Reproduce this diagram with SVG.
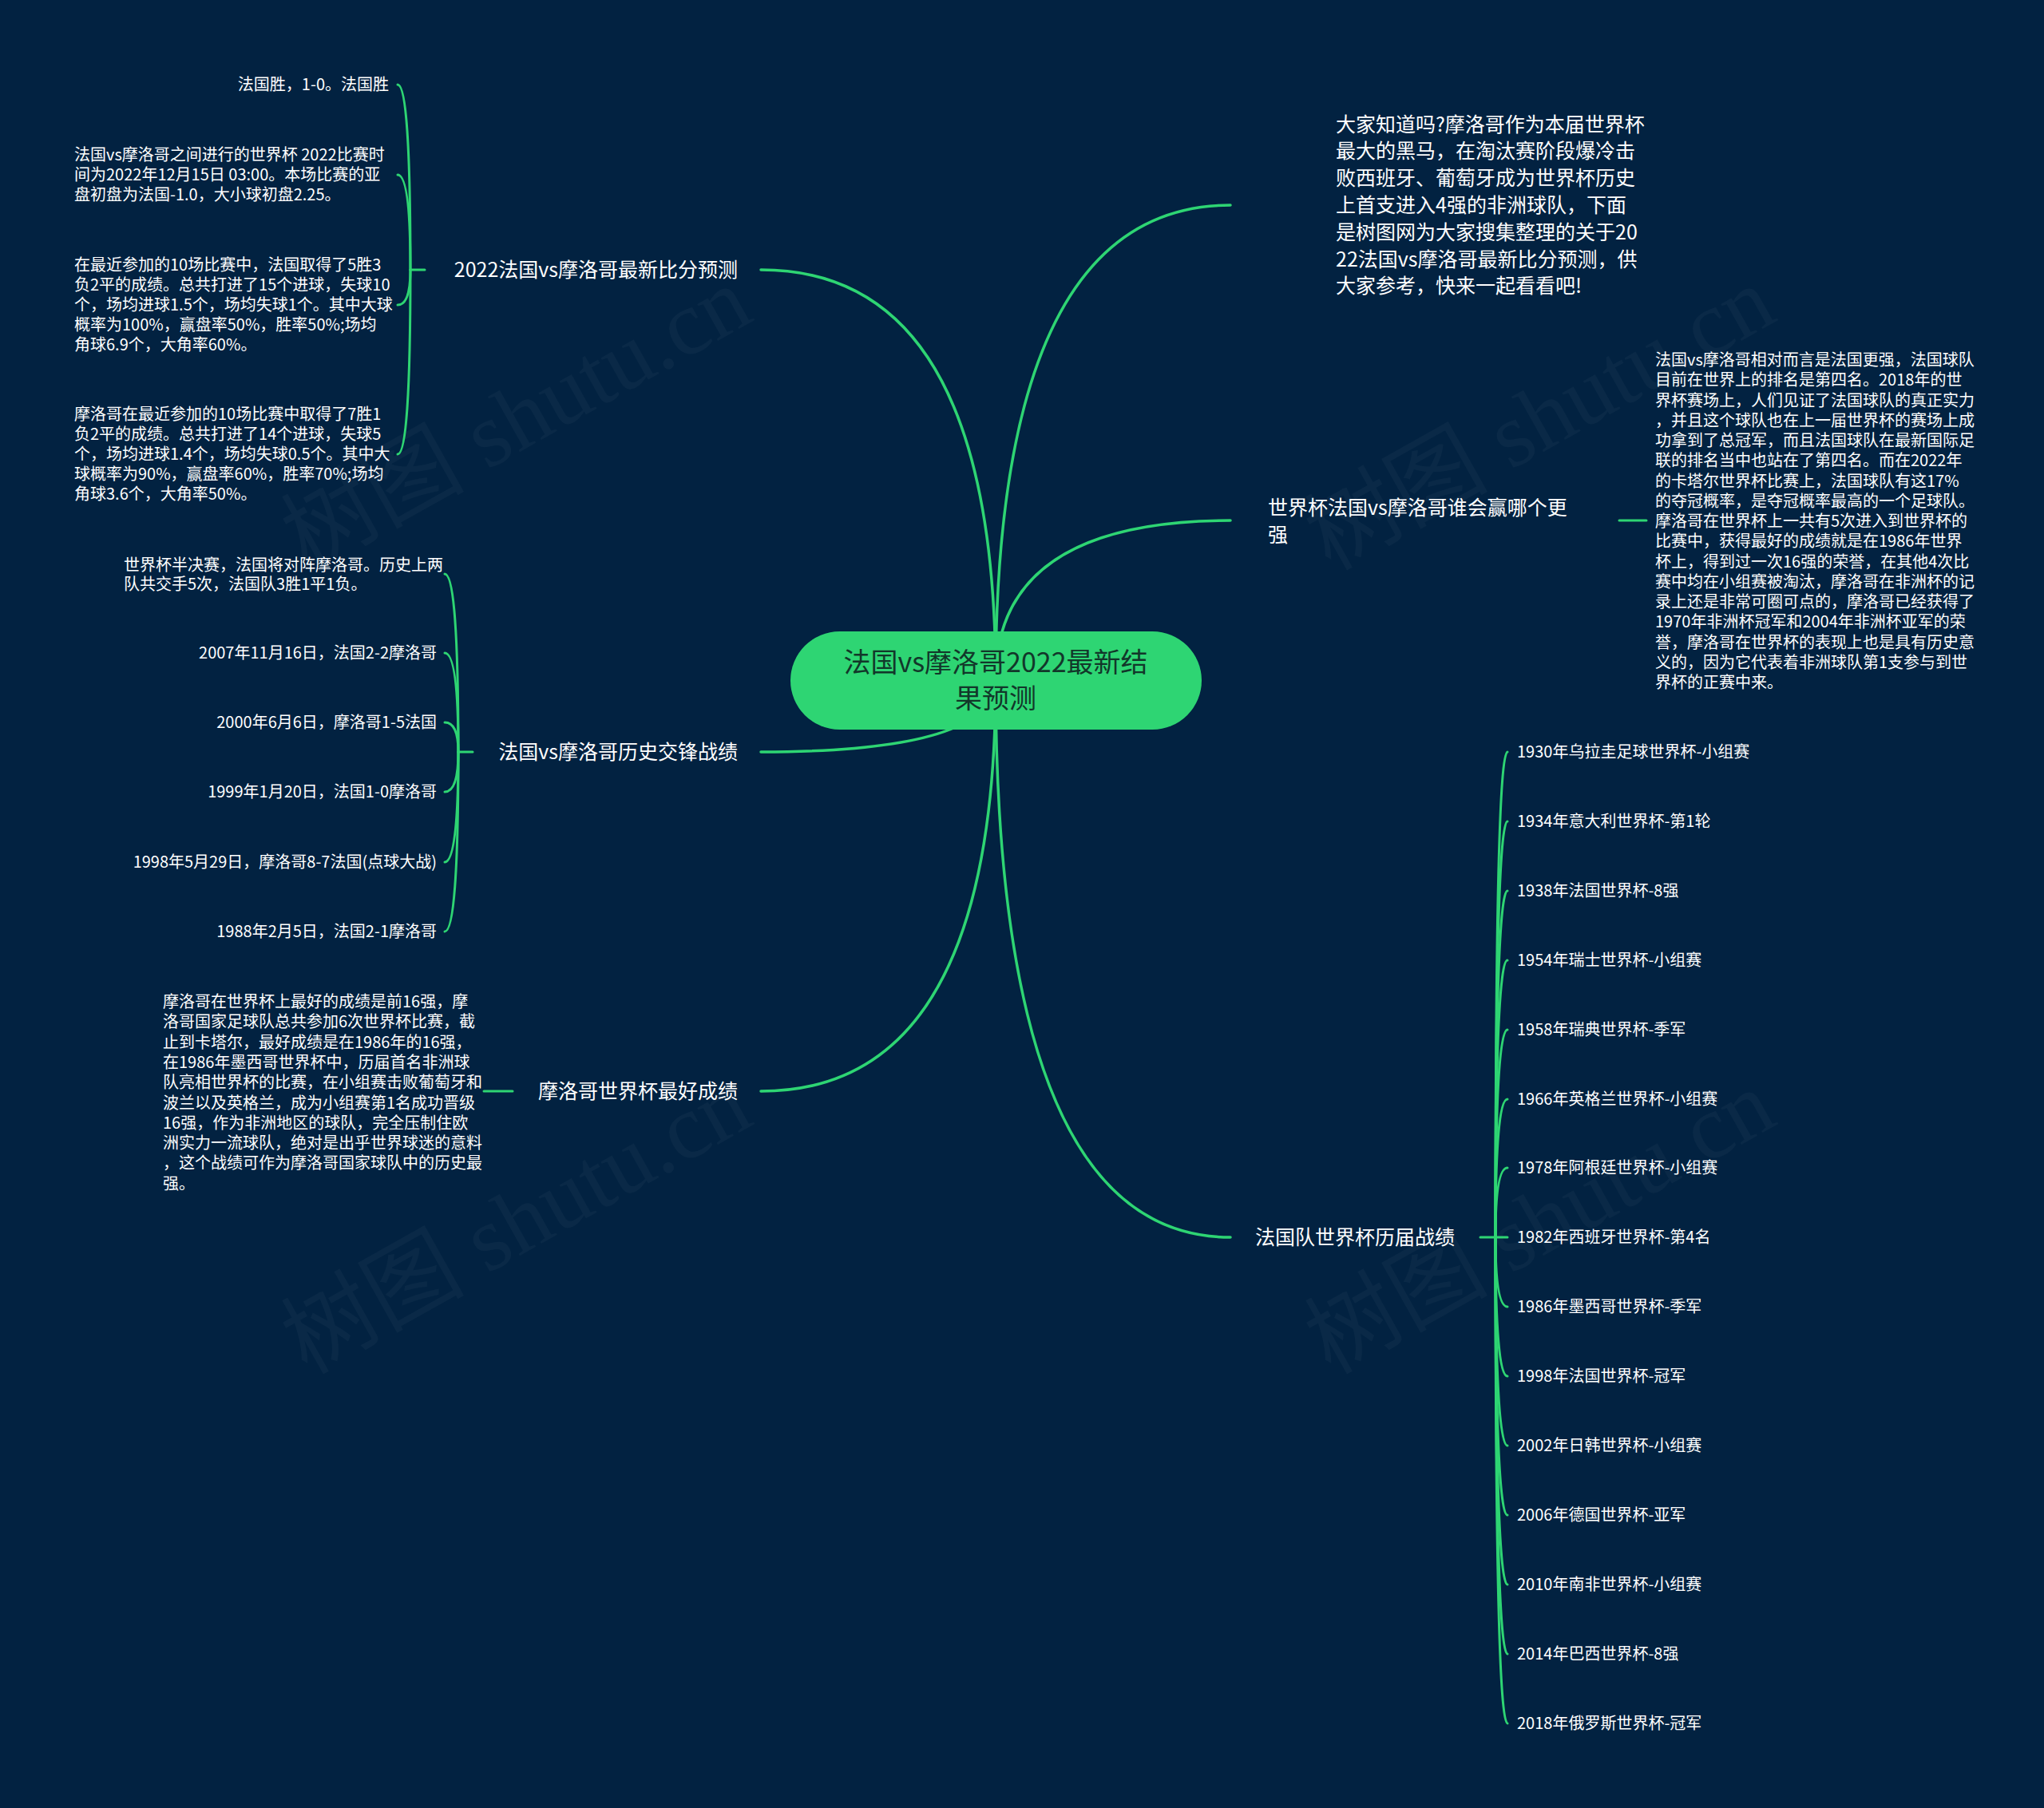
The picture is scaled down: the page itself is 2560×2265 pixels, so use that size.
<svg xmlns="http://www.w3.org/2000/svg" width="2560" height="2265" viewBox="0 0 2560 2265">
<style>
.t{font-family:"Noto Sans CJK SC","Liberation Sans",sans-serif;fill:#ffffff}
.s{font-size:20px}
.m{font-size:25px}
.c{font-size:34px;fill:#12372a}
.ln{fill:none;stroke:#2ed573;stroke-width:3.5;stroke-linecap:round}
.sb{fill:none;stroke:#2ed573;stroke-width:3;stroke-linecap:round}
.wm{font-family:"Liberation Serif","Noto Sans CJK SC",serif;font-size:115px;fill:#ffffff;fill-opacity:0.035}
</style>
<rect x="0" y="0" width="2560" height="2265" fill="#022241"/>
<g id="watermarks">
<text class="wm" text-anchor="middle" transform="translate(646,523) rotate(-29.3)" y="40">树图 shutu.cn</text>
<text class="wm" text-anchor="middle" transform="translate(1928,523) rotate(-29.3)" y="40">树图 shutu.cn</text>
<text class="wm" text-anchor="middle" transform="translate(646,1530) rotate(-29.3)" y="40">树图 shutu.cn</text>
<text class="wm" text-anchor="middle" transform="translate(1928,1530) rotate(-29.3)" y="40">树图 shutu.cn</text>
</g>
<g id="connectors">
<path class="ln" d="M1247,852 Q1247,338 953,338"/>
<path class="ln" d="M1247,852 Q1247,942 953,942"/>
<path class="ln" d="M1247,852 Q1247,1367 953,1367"/>
<path class="ln" d="M1247,852 Q1247,257 1541,257"/>
<path class="ln" d="M1247,852 Q1247,652 1541,652"/>
<path class="ln" d="M1247,852 Q1247,1550 1541,1550"/>
<path class="sb" d="M532,338 H514"/>
<path class="sb" d="M514,338 Q514,106 498,106"/>
<path class="sb" d="M514,338 Q514,219 498,219"/>
<path class="sb" d="M514,338 Q514,382 498,382"/>
<path class="sb" d="M514,338 Q514,569 498,569"/>
<path class="sb" d="M592,942 H574"/>
<path class="sb" d="M574,942 Q574,719 557,719"/>
<path class="sb" d="M574,942 Q574,818 557,818"/>
<path class="sb" d="M574,942 Q574,905 557,905"/>
<path class="sb" d="M574,942 Q574,992 557,992"/>
<path class="sb" d="M574,942 Q574,1080 557,1080"/>
<path class="sb" d="M574,942 Q574,1167 557,1167"/>
<path class="sb" d="M642,1367 H606"/>
<path class="sb" d="M2028,652 H2062"/>
<path class="sb" d="M1854,1550 H1873"/>
<path class="sb" d="M1873,1550 Q1873,942 1888,942"/>
<path class="sb" d="M1873,1550 Q1873,1029 1888,1029"/>
<path class="sb" d="M1873,1550 Q1873,1116 1888,1116"/>
<path class="sb" d="M1873,1550 Q1873,1203 1888,1203"/>
<path class="sb" d="M1873,1550 Q1873,1290 1888,1290"/>
<path class="sb" d="M1873,1550 Q1873,1377 1888,1377"/>
<path class="sb" d="M1873,1550 Q1873,1463 1888,1463"/>
<path class="sb" d="M1873,1550 H1888"/>
<path class="sb" d="M1873,1550 Q1873,1637 1888,1637"/>
<path class="sb" d="M1873,1550 Q1873,1724 1888,1724"/>
<path class="sb" d="M1873,1550 Q1873,1811 1888,1811"/>
<path class="sb" d="M1873,1550 Q1873,1898 1888,1898"/>
<path class="sb" d="M1873,1550 Q1873,1985 1888,1985"/>
<path class="sb" d="M1873,1550 Q1873,2072 1888,2072"/>
<path class="sb" d="M1873,1550 Q1873,2159 1888,2159"/>
</g>
<g id="center">
<rect x="990" y="791" width="515" height="123" rx="61.5" fill="#2ed573"/>
<text class="t c" text-anchor="middle"><tspan x="1247" y="842">法国vs摩洛哥2022最新结</tspan><tspan x="1247" y="887">果预测</tspan></text>
</g>
<g id="n-intro">
<text class="t m"><tspan x="1673" y="164.5">大家知道吗?摩洛哥作为本届世界杯</tspan><tspan x="1673" y="198.3">最大的黑马，在淘汰赛阶段爆冷击</tspan><tspan x="1673" y="232.1">败西班牙、葡萄牙成为世界杯历史</tspan><tspan x="1673" y="265.9">上首支进入4强的非洲球队，下面</tspan><tspan x="1673" y="299.7">是树图网为大家搜集整理的关于20</tspan><tspan x="1673" y="333.5">22法国vs摩洛哥最新比分预测，供</tspan><tspan x="1673" y="367.3">大家参考，快来一起看看吧!</tspan></text>
</g>
<g id="n-who">
<text class="t m"><tspan x="1588" y="645">世界杯法国vs摩洛哥谁会赢哪个更</tspan><tspan x="1588" y="679">强</tspan></text>
</g>
<g id="n-who-detail">
<text class="t s"><tspan x="2073" y="458">法国vs摩洛哥相对而言是法国更强，法国球队</tspan><tspan x="2073" y="483.25">目前在世界上的排名是第四名。2018年的世</tspan><tspan x="2073" y="508.5">界杯赛场上，人们见证了法国球队的真正实力</tspan><tspan x="2073" y="533.75">，并且这个球队也在上一届世界杯的赛场上成</tspan><tspan x="2073" y="559">功拿到了总冠军，而且法国球队在最新国际足</tspan><tspan x="2073" y="584.25">联的排名当中也站在了第四名。而在2022年</tspan><tspan x="2073" y="609.5">的卡塔尔世界杯比赛上，法国球队有这17%</tspan><tspan x="2073" y="634.75">的夺冠概率，是夺冠概率最高的一个足球队。</tspan><tspan x="2073" y="660">摩洛哥在世界杯上一共有5次进入到世界杯的</tspan><tspan x="2073" y="685.25">比赛中，获得最好的成绩就是在1986年世界</tspan><tspan x="2073" y="710.5">杯上，得到过一次16强的荣誉，在其他4次比</tspan><tspan x="2073" y="735.75">赛中均在小组赛被淘汰，摩洛哥在非洲杯的记</tspan><tspan x="2073" y="761">录上还是非常可圈可点的，摩洛哥已经获得了</tspan><tspan x="2073" y="786.25">1970年非洲杯冠军和2004年非洲杯亚军的荣</tspan><tspan x="2073" y="811.5">誉，摩洛哥在世界杯的表现上也是具有历史意</tspan><tspan x="2073" y="836.75">义的，因为它代表着非洲球队第1支参与到世</tspan><tspan x="2073" y="862">界杯的正赛中来。</tspan></text>
</g>
<g id="n-predict">
<text class="t m" text-anchor="end" x="924" y="347">2022法国vs摩洛哥最新比分预测</text>
</g>
<g id="n-predict-1">
<text class="t s" text-anchor="end" x="487" y="113">法国胜，1-0。法国胜</text>
</g>
<g id="n-predict-2">
<text class="t s"><tspan x="93" y="201">法国vs摩洛哥之间进行的世界杯 2022比赛时</tspan><tspan x="93" y="226">间为2022年12月15日 03:00。本场比赛的亚</tspan><tspan x="93" y="251">盘初盘为法国-1.0，大小球初盘2.25。</tspan></text>
</g>
<g id="n-predict-3">
<text class="t s"><tspan x="93" y="339">在最近参加的10场比赛中，法国取得了5胜3</tspan><tspan x="93" y="364">负2平的成绩。总共打进了15个进球，失球10</tspan><tspan x="93" y="389">个，场均进球1.5个，场均失球1个。其中大球</tspan><tspan x="93" y="414">概率为100%，赢盘率50%，胜率50%;场均</tspan><tspan x="93" y="439">角球6.9个，大角率60%。</tspan></text>
</g>
<g id="n-predict-4">
<text class="t s"><tspan x="93" y="526">摩洛哥在最近参加的10场比赛中取得了7胜1</tspan><tspan x="93" y="551">负2平的成绩。总共打进了14个进球，失球5</tspan><tspan x="93" y="576">个，场均进球1.4个，场均失球0.5个。其中大</tspan><tspan x="93" y="601">球概率为90%，赢盘率60%，胜率70%;场均</tspan><tspan x="93" y="626">角球3.6个，大角率50%。</tspan></text>
</g>
<g id="n-history">
<text class="t m" text-anchor="end" x="924" y="951">法国vs摩洛哥历史交锋战绩</text>
</g>
<g id="n-history-1">
<text class="t s"><tspan x="155" y="715">世界杯半决赛，法国将对阵摩洛哥。历史上两</tspan><tspan x="155" y="739">队共交手5次，法国队3胜1平1负。</tspan></text>
</g>
<g id="n-history-2"><text class="t s" text-anchor="end" x="547" y="825">2007年11月16日，法国2-2摩洛哥</text></g>
<g id="n-history-3"><text class="t s" text-anchor="end" x="547" y="912">2000年6月6日，摩洛哥1-5法国</text></g>
<g id="n-history-4"><text class="t s" text-anchor="end" x="547" y="999">1999年1月20日，法国1-0摩洛哥</text></g>
<g id="n-history-5"><text class="t s" text-anchor="end" x="547" y="1087">1998年5月29日，摩洛哥8-7法国(点球大战)</text></g>
<g id="n-history-6"><text class="t s" text-anchor="end" x="547" y="1174">1988年2月5日，法国2-1摩洛哥</text></g>
<g id="n-best">
<text class="t m" text-anchor="end" x="924" y="1376">摩洛哥世界杯最好成绩</text>
</g>
<g id="n-best-detail">
<text class="t s"><tspan x="204" y="1262">摩洛哥在世界杯上最好的成绩是前16强，摩</tspan><tspan x="204" y="1287.3">洛哥国家足球队总共参加6次世界杯比赛，截</tspan><tspan x="204" y="1312.6">止到卡塔尔，最好成绩是在1986年的16强，</tspan><tspan x="204" y="1337.9">在1986年墨西哥世界杯中，历届首名非洲球</tspan><tspan x="204" y="1363.2">队亮相世界杯的比赛，在小组赛击败葡萄牙和</tspan><tspan x="204" y="1388.5">波兰以及英格兰，成为小组赛第1名成功晋级</tspan><tspan x="204" y="1413.8">16强，作为非洲地区的球队，完全压制住欧</tspan><tspan x="204" y="1439.1">洲实力一流球队，绝对是出乎世界球迷的意料</tspan><tspan x="204" y="1464.4">，这个战绩可作为摩洛哥国家球队中的历史最</tspan><tspan x="204" y="1489.7">强。</tspan></text>
</g>
<g id="n-france">
<text class="t m" x="1572" y="1559">法国队世界杯历届战绩</text>
</g>
<g id="n-france-list">
<text class="t s" x="1900" y="949">1930年乌拉圭足球世界杯-小组赛</text>
<text class="t s" x="1900" y="1036">1934年意大利世界杯-第1轮</text>
<text class="t s" x="1900" y="1123">1938年法国世界杯-8强</text>
<text class="t s" x="1900" y="1210">1954年瑞士世界杯-小组赛</text>
<text class="t s" x="1900" y="1297">1958年瑞典世界杯-季军</text>
<text class="t s" x="1900" y="1384">1966年英格兰世界杯-小组赛</text>
<text class="t s" x="1900" y="1470">1978年阿根廷世界杯-小组赛</text>
<text class="t s" x="1900" y="1557">1982年西班牙世界杯-第4名</text>
<text class="t s" x="1900" y="1644">1986年墨西哥世界杯-季军</text>
<text class="t s" x="1900" y="1731">1998年法国世界杯-冠军</text>
<text class="t s" x="1900" y="1818">2002年日韩世界杯-小组赛</text>
<text class="t s" x="1900" y="1905">2006年德国世界杯-亚军</text>
<text class="t s" x="1900" y="1992">2010年南非世界杯-小组赛</text>
<text class="t s" x="1900" y="2079">2014年巴西世界杯-8强</text>
<text class="t s" x="1900" y="2166">2018年俄罗斯世界杯-冠军</text>
</g>
</svg>
